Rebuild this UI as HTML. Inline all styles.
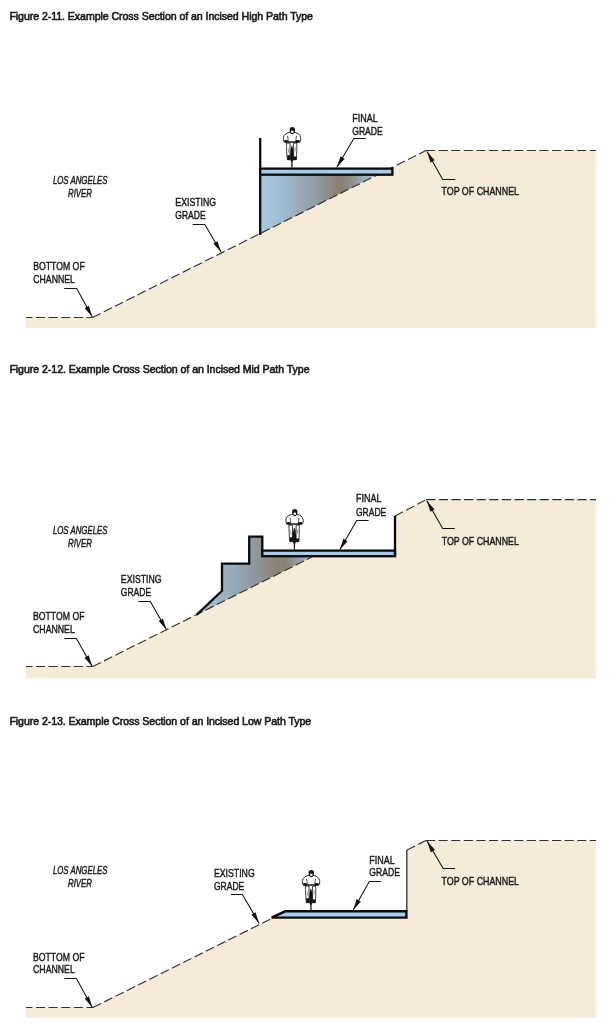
<!DOCTYPE html>
<html>
<head>
<meta charset="utf-8">
<style>
html,body{margin:0;padding:0;background:#fff;width:616px;height:1025px;overflow:hidden;}
svg{display:block;will-change:transform;}
.t{font-family:"Liberation Sans",sans-serif;font-size:10.6px;fill:#1a1a1a;stroke:#1a1a1a;stroke-width:0.6px;}
.l{font-family:"Liberation Sans",sans-serif;font-size:11.6px;fill:#1a1a1a;stroke:#1a1a1a;stroke-width:0.45px;}
.i{font-family:"Liberation Sans",sans-serif;font-size:11px;fill:#1e1e1e;font-style:italic;stroke:#1a1a1a;stroke-width:0.45px;}
.dash{fill:none;stroke:#33312c;stroke-width:1.15;stroke-dasharray:9.1 3.5;}
.ld{fill:none;stroke:#111;stroke-width:1.05;}
.ol{fill:none;stroke:#0a0a0a;stroke-width:2.3;stroke-linejoin:miter;}
.beige{fill:#f4ebd9;}
.blue{fill:#a9cbe7;}
</style>
</head>
<body>
<svg width="616" height="1025" viewBox="0 0 616 1025">
<defs>
  <linearGradient id="g1" gradientUnits="userSpaceOnUse" x1="261" y1="0" x2="377" y2="0">
    <stop offset="0" stop-color="#a8cae5"/>
    <stop offset="0.22" stop-color="#9db7cb"/>
    <stop offset="0.42" stop-color="#93a2ad"/>
    <stop offset="0.54" stop-color="#8d9398"/>
    <stop offset="0.63" stop-color="#8b8478"/>
    <stop offset="0.7" stop-color="#8b7f72"/>
    <stop offset="0.78" stop-color="#8e8f90"/>
    <stop offset="0.89" stop-color="#9fb0bd"/>
    <stop offset="1" stop-color="#adc6da"/>
  </linearGradient>
  <linearGradient id="g2" gradientUnits="userSpaceOnUse" x1="197" y1="0" x2="312" y2="0">
    <stop offset="0" stop-color="#a8c9e3"/>
    <stop offset="0.22" stop-color="#9bb3c5"/>
    <stop offset="0.33" stop-color="#95a8b6"/>
    <stop offset="0.46" stop-color="#8f9ca4"/>
    <stop offset="0.565" stop-color="#8d9194"/>
    <stop offset="0.68" stop-color="#8b8478"/>
    <stop offset="0.77" stop-color="#8b8275"/>
    <stop offset="0.9" stop-color="#96a2ab"/>
    <stop offset="1" stop-color="#a8c0d0"/>
  </linearGradient>
  
  
</defs>

<!-- ============ FIGURE 1 ============ -->
<text class="t" x="9.4" y="19.8" textLength="303.6" lengthAdjust="spacing">Figure 2-11. Example Cross Section of an Incised High Path Type</text>

<path class="beige" d="M26,317.5 L92.5,317.5 L426,150.5 L596,150.5 L596,327.8 L26,327.8 Z"/>
<path fill="url(#g1)" d="M261,175 L377,175 L261,233.4 Z"/>
<path class="dash" stroke-dashoffset="2.6" d="M26,317.5 L92.5,317.5"/>
<path class="dash" d="M92.5,317.5 L426,150.5"/>
<path class="dash" d="M426,150.5 L596,150.5"/>
<path class="ol" d="M260.2,138 L260.2,235"/>
<rect class="blue" x="261" y="168.6" width="131.2" height="6"/>
<rect class="ol" x="260.2" y="168.6" width="132.2" height="6.1"/>
<g transform="translate(283,127.5)">
    <path d="M3.4,15.6 L7,15.6 L7,32.2 L4.3,32.2 C3.7,26 3.4,20 3.4,15.6 Z" fill="#fff" stroke="#111" stroke-width="0.8"/>
    <path d="M13.8,15.6 L10.6,15.6 L10.6,32.2 L13.3,32.2 C13.8,26 13.9,20 13.8,15.6 Z" fill="#fff" stroke="#111" stroke-width="0.8"/>
    <path d="M4.2,27.8 L7.1,27.8 L7.1,32.5 L4.4,32.5 Z M10.6,29 L13.6,29 L13.4,32.5 L10.6,32.5 Z" fill="#111"/>
    <path d="M5.2,21 L5.6,25 M12.2,20 L12,24" stroke="#333" stroke-width="0.5"/>
    <path d="M8.9,17.9 C10.4,20 10.7,28 10.6,31 C10.5,33 9.8,34.4 8.9,34.4 C8,34.4 7.3,33 7.2,31 C7.1,28 7.4,20 8.9,17.9 Z" fill="#111"/>
    <rect x="8.25" y="33.5" width="1.35" height="6.6" fill="#222"/>
    <path d="M6.3,5 C3.5,5.5 1,7 0.4,10 C0.1,11.5 0.6,13.3 1.5,14.6 L16.8,14.6 C17.6,13.3 18,11.5 17.6,10 C17,7 14.6,5.5 12,5 Z" fill="#fff" stroke="#111" stroke-width="0.9"/>
    <path d="M4.5,8.3 C5,10.3 5.2,12 5.2,13.8 M13.5,8.3 C13.1,10.3 12.9,12 12.9,13.8" fill="none" stroke="#111" stroke-width="0.75"/>
    <path d="M4.5,14.5 L13.5,14.5" stroke="#111" stroke-width="1"/>
    <ellipse cx="3" cy="13.9" rx="2.1" ry="1.4" fill="#111"/>
    <ellipse cx="14.7" cy="13.9" rx="2.3" ry="1.4" fill="#111"/>
    <path d="M6.6,2.6 C6.6,0.3 7.6,-0.4 9.3,-0.4 C11,-0.4 12,0.3 12,2.6 C12,4.6 11.4,6.8 9.3,6.8 C7.2,6.8 6.6,4.6 6.6,2.6 Z" fill="#111"/>
    <ellipse cx="9.3" cy="4.2" rx="1.35" ry="1.3" fill="#fff"/>
  </g>

<path class="ld" d="M64.2,288.5 L76.7,288.5 L92.3,317"/><path fill="#111" d="M92.30,317.00 L84.67,308.06 L88.88,305.76 Z"/>
<path class="ld" d="M192.8,224.5 L204.8,224.5 L221.2,252.3"/><path fill="#111" d="M221.20,252.30 L213.29,243.61 L217.42,241.18 Z"/>
<path class="ld" d="M365.8,138.5 L353.9,138.5 L336.8,167.3"/><path fill="#111" d="M336.80,167.30 L340.61,156.19 L344.73,158.64 Z"/>
<path class="ld" d="M455.2,179.5 L442.7,179.5 L427,151.4"/><path fill="#111" d="M427.00,151.40 L434.70,160.27 L430.51,162.61 Z"/>

<text class="i" x="52.9" y="183.7" textLength="54.6" lengthAdjust="spacingAndGlyphs">LOS ANGELES</text>
<text class="i" x="68" y="196.9" textLength="24" lengthAdjust="spacingAndGlyphs">RIVER</text>
<text class="l" x="175.3" y="205.6" textLength="40.8" lengthAdjust="spacingAndGlyphs">EXISTING</text>
<text class="l" x="175.3" y="218.6" textLength="30.4" lengthAdjust="spacingAndGlyphs">GRADE</text>
<text class="l" x="33.2" y="270.3" textLength="51.5" lengthAdjust="spacingAndGlyphs">BOTTOM OF</text>
<text class="l" x="33.2" y="282.8" textLength="41.8" lengthAdjust="spacingAndGlyphs">CHANNEL</text>
<text class="l" x="352.2" y="121.8" textLength="25.5" lengthAdjust="spacingAndGlyphs">FINAL</text>
<text class="l" x="352.2" y="135.1" textLength="30.6" lengthAdjust="spacingAndGlyphs">GRADE</text>
<text class="l" x="441.5" y="195.3" textLength="77.5" lengthAdjust="spacingAndGlyphs">TOP OF CHANNEL</text>

<!-- ============ FIGURE 2 ============ -->
<text class="t" x="9.4" y="372.8" textLength="300.2" lengthAdjust="spacing">Figure 2-12. Example Cross Section of an Incised Mid Path Type</text>

<path class="beige" d="M26,666.5 L92.8,666.5 L312,557 L395,557 L395,516 L426.3,499.6 L596,499.6 L596,678.4 L26,678.4 Z"/>
<path fill="url(#g2)" d="M196.6,614.9 L222,590.8 L222,563.7 L249.2,563.7 L249.2,536.7 L262.3,536.7 L262.3,557 L312,557 Z"/>
<path class="dash" stroke-dashoffset="2.6" d="M26,666.5 L92.8,666.5"/>
<path class="dash" d="M92.8,666.5 L312,557"/>
<path class="dash" d="M395,516 L426.3,499.6"/>
<path class="dash" d="M426.3,499.6 L596,499.6"/>
<path class="ol" d="M196.6,614.9 L222,590.8 L222,563.7 L249.2,563.7 L249.2,536.7 L262.3,536.7 L262.3,557"/>
<rect class="blue" x="263" y="550.6" width="131.6" height="5.4"/>
<rect class="ol" x="262.3" y="550.6" width="132.7" height="5.6"/>
<path class="ol" stroke-width="2" d="M395,516 L395,557"/>
<g transform="translate(285.5,509.5)">
    <path d="M3.4,15.6 L7,15.6 L7,32.2 L4.3,32.2 C3.7,26 3.4,20 3.4,15.6 Z" fill="#fff" stroke="#111" stroke-width="0.8"/>
    <path d="M13.8,15.6 L10.6,15.6 L10.6,32.2 L13.3,32.2 C13.8,26 13.9,20 13.8,15.6 Z" fill="#fff" stroke="#111" stroke-width="0.8"/>
    <path d="M4.2,27.8 L7.1,27.8 L7.1,32.5 L4.4,32.5 Z M10.6,29 L13.6,29 L13.4,32.5 L10.6,32.5 Z" fill="#111"/>
    <path d="M5.2,21 L5.6,25 M12.2,20 L12,24" stroke="#333" stroke-width="0.5"/>
    <path d="M8.9,17.9 C10.4,20 10.7,28 10.6,31 C10.5,33 9.8,34.4 8.9,34.4 C8,34.4 7.3,33 7.2,31 C7.1,28 7.4,20 8.9,17.9 Z" fill="#111"/>
    <rect x="8.25" y="33.5" width="1.35" height="6.6" fill="#222"/>
    <path d="M6.3,5 C3.5,5.5 1,7 0.4,10 C0.1,11.5 0.6,13.3 1.5,14.6 L16.8,14.6 C17.6,13.3 18,11.5 17.6,10 C17,7 14.6,5.5 12,5 Z" fill="#fff" stroke="#111" stroke-width="0.9"/>
    <path d="M4.5,8.3 C5,10.3 5.2,12 5.2,13.8 M13.5,8.3 C13.1,10.3 12.9,12 12.9,13.8" fill="none" stroke="#111" stroke-width="0.75"/>
    <path d="M4.5,14.5 L13.5,14.5" stroke="#111" stroke-width="1"/>
    <ellipse cx="3" cy="13.9" rx="2.1" ry="1.4" fill="#111"/>
    <ellipse cx="14.7" cy="13.9" rx="2.3" ry="1.4" fill="#111"/>
    <path d="M6.6,2.6 C6.6,0.3 7.6,-0.4 9.3,-0.4 C11,-0.4 12,0.3 12,2.6 C12,4.6 11.4,6.8 9.3,6.8 C7.2,6.8 6.6,4.6 6.6,2.6 Z" fill="#111"/>
    <ellipse cx="9.3" cy="4.2" rx="1.35" ry="1.3" fill="#fff"/>
  </g>

<path class="ld" d="M64.5,638.5 L76.4,638.5 L92.3,666.5"/><path fill="#111" d="M92.30,666.50 L84.53,657.68 L88.71,655.31 Z"/>
<path class="ld" d="M138.4,601.5 L150.3,601.5 L166.5,629.8"/><path fill="#111" d="M166.50,629.80 L158.70,621.01 L162.87,618.63 Z"/>
<path class="ld" d="M368.6,520.5 L356.7,520.5 L339.7,550"/><path fill="#111" d="M339.70,550.00 L343.36,538.84 L347.52,541.23 Z"/>
<path class="ld" d="M454.8,528.5 L442.7,528.5 L426.8,500.7"/><path fill="#111" d="M426.80,500.70 L434.59,509.49 L430.43,511.87 Z"/>

<text class="i" x="52.9" y="533.5" textLength="54.6" lengthAdjust="spacingAndGlyphs">LOS ANGELES</text>
<text class="i" x="68" y="546.7" textLength="24" lengthAdjust="spacingAndGlyphs">RIVER</text>
<text class="l" x="120.8" y="583.2" textLength="40.8" lengthAdjust="spacingAndGlyphs">EXISTING</text>
<text class="l" x="120.8" y="596.2" textLength="30.4" lengthAdjust="spacingAndGlyphs">GRADE</text>
<text class="l" x="33" y="619.8" textLength="51.5" lengthAdjust="spacingAndGlyphs">BOTTOM OF</text>
<text class="l" x="33" y="633" textLength="41.8" lengthAdjust="spacingAndGlyphs">CHANNEL</text>
<text class="l" x="355.9" y="502.3" textLength="25.5" lengthAdjust="spacingAndGlyphs">FINAL</text>
<text class="l" x="355.9" y="515.5" textLength="30.4" lengthAdjust="spacingAndGlyphs">GRADE</text>
<text class="l" x="441.7" y="544.5" textLength="77.2" lengthAdjust="spacingAndGlyphs">TOP OF CHANNEL</text>

<!-- ============ FIGURE 3 ============ -->
<text class="t" x="9.4" y="724.8" textLength="301.8" lengthAdjust="spacing">Figure 2-13. Example Cross Section of an Incised Low Path Type</text>

<path class="beige" d="M26,1007.5 L93,1007.5 L270.6,919 L407,919 L407,850 L426,840.5 L596,840.5 L596,1017.6 L26,1017.6 Z"/>
<path class="dash" stroke-dashoffset="2.6" d="M26,1007.5 L93,1007.5"/>
<path class="dash" d="M93,1007.5 L270.6,919"/>
<path class="dash" d="M407,850 L426,840.5"/>
<path class="dash" d="M426,840.5 L596,840.5"/>
<path fill="none" stroke="#2a2a2a" stroke-width="1.3" d="M406.8,850 L406.8,911"/>
<path class="blue" stroke="#0a0a0a" stroke-width="2.4" stroke-linejoin="miter" d="M285.2,911.3 L406.4,911.3 L406.4,917.6 L271.6,917.6 Z"/>
<g transform="translate(302,870.5)">
    <path d="M3.4,15.6 L7,15.6 L7,32.2 L4.3,32.2 C3.7,26 3.4,20 3.4,15.6 Z" fill="#fff" stroke="#111" stroke-width="0.8"/>
    <path d="M13.8,15.6 L10.6,15.6 L10.6,32.2 L13.3,32.2 C13.8,26 13.9,20 13.8,15.6 Z" fill="#fff" stroke="#111" stroke-width="0.8"/>
    <path d="M4.2,27.8 L7.1,27.8 L7.1,32.5 L4.4,32.5 Z M10.6,29 L13.6,29 L13.4,32.5 L10.6,32.5 Z" fill="#111"/>
    <path d="M5.2,21 L5.6,25 M12.2,20 L12,24" stroke="#333" stroke-width="0.5"/>
    <path d="M8.9,17.9 C10.4,20 10.7,28 10.6,31 C10.5,33 9.8,34.4 8.9,34.4 C8,34.4 7.3,33 7.2,31 C7.1,28 7.4,20 8.9,17.9 Z" fill="#111"/>
    <rect x="8.25" y="33.5" width="1.35" height="6.6" fill="#222"/>
    <path d="M6.3,5 C3.5,5.5 1,7 0.4,10 C0.1,11.5 0.6,13.3 1.5,14.6 L16.8,14.6 C17.6,13.3 18,11.5 17.6,10 C17,7 14.6,5.5 12,5 Z" fill="#fff" stroke="#111" stroke-width="0.9"/>
    <path d="M4.5,8.3 C5,10.3 5.2,12 5.2,13.8 M13.5,8.3 C13.1,10.3 12.9,12 12.9,13.8" fill="none" stroke="#111" stroke-width="0.75"/>
    <path d="M4.5,14.5 L13.5,14.5" stroke="#111" stroke-width="1"/>
    <ellipse cx="3" cy="13.9" rx="2.1" ry="1.4" fill="#111"/>
    <ellipse cx="14.7" cy="13.9" rx="2.3" ry="1.4" fill="#111"/>
    <path d="M6.6,2.6 C6.6,0.3 7.6,-0.4 9.3,-0.4 C11,-0.4 12,0.3 12,2.6 C12,4.6 11.4,6.8 9.3,6.8 C7.2,6.8 6.6,4.6 6.6,2.6 Z" fill="#111"/>
    <ellipse cx="9.3" cy="4.2" rx="1.35" ry="1.3" fill="#fff"/>
  </g>

<path class="ld" d="M64.5,978.5 L76.4,978.5 L92.3,1007.5"/><path fill="#111" d="M92.30,1007.50 L84.67,998.57 L88.88,996.26 Z"/>
<path class="ld" d="M231,894.5 L242.4,894.5 L259.2,923.4"/><path fill="#111" d="M259.20,923.40 L251.35,914.66 L255.50,912.25 Z"/>
<path class="ld" d="M380.9,881.5 L369.3,881.5 L353.1,910.3"/><path fill="#111" d="M353.10,910.30 L356.65,899.10 L360.83,901.45 Z"/>
<path class="ld" d="M455,868.5 L443.2,868.5 L427,841"/><path fill="#111" d="M427.00,841.00 L434.90,849.69 L430.77,852.13 Z"/>

<text class="i" x="52.9" y="873.7" textLength="54.6" lengthAdjust="spacingAndGlyphs">LOS ANGELES</text>
<text class="i" x="68" y="886.9" textLength="24" lengthAdjust="spacingAndGlyphs">RIVER</text>
<text class="l" x="213.9" y="876.6" textLength="40.8" lengthAdjust="spacingAndGlyphs">EXISTING</text>
<text class="l" x="213.9" y="889.8" textLength="30.4" lengthAdjust="spacingAndGlyphs">GRADE</text>
<text class="l" x="33" y="960.6" textLength="51.5" lengthAdjust="spacingAndGlyphs">BOTTOM OF</text>
<text class="l" x="33" y="973.4" textLength="41.8" lengthAdjust="spacingAndGlyphs">CHANNEL</text>
<text class="l" x="369.3" y="863.5" textLength="25.5" lengthAdjust="spacingAndGlyphs">FINAL</text>
<text class="l" x="369.3" y="876.3" textLength="30.6" lengthAdjust="spacingAndGlyphs">GRADE</text>
<text class="l" x="441.5" y="884.8" textLength="77.5" lengthAdjust="spacingAndGlyphs">TOP OF CHANNEL</text>

</svg>
</body>
</html>
